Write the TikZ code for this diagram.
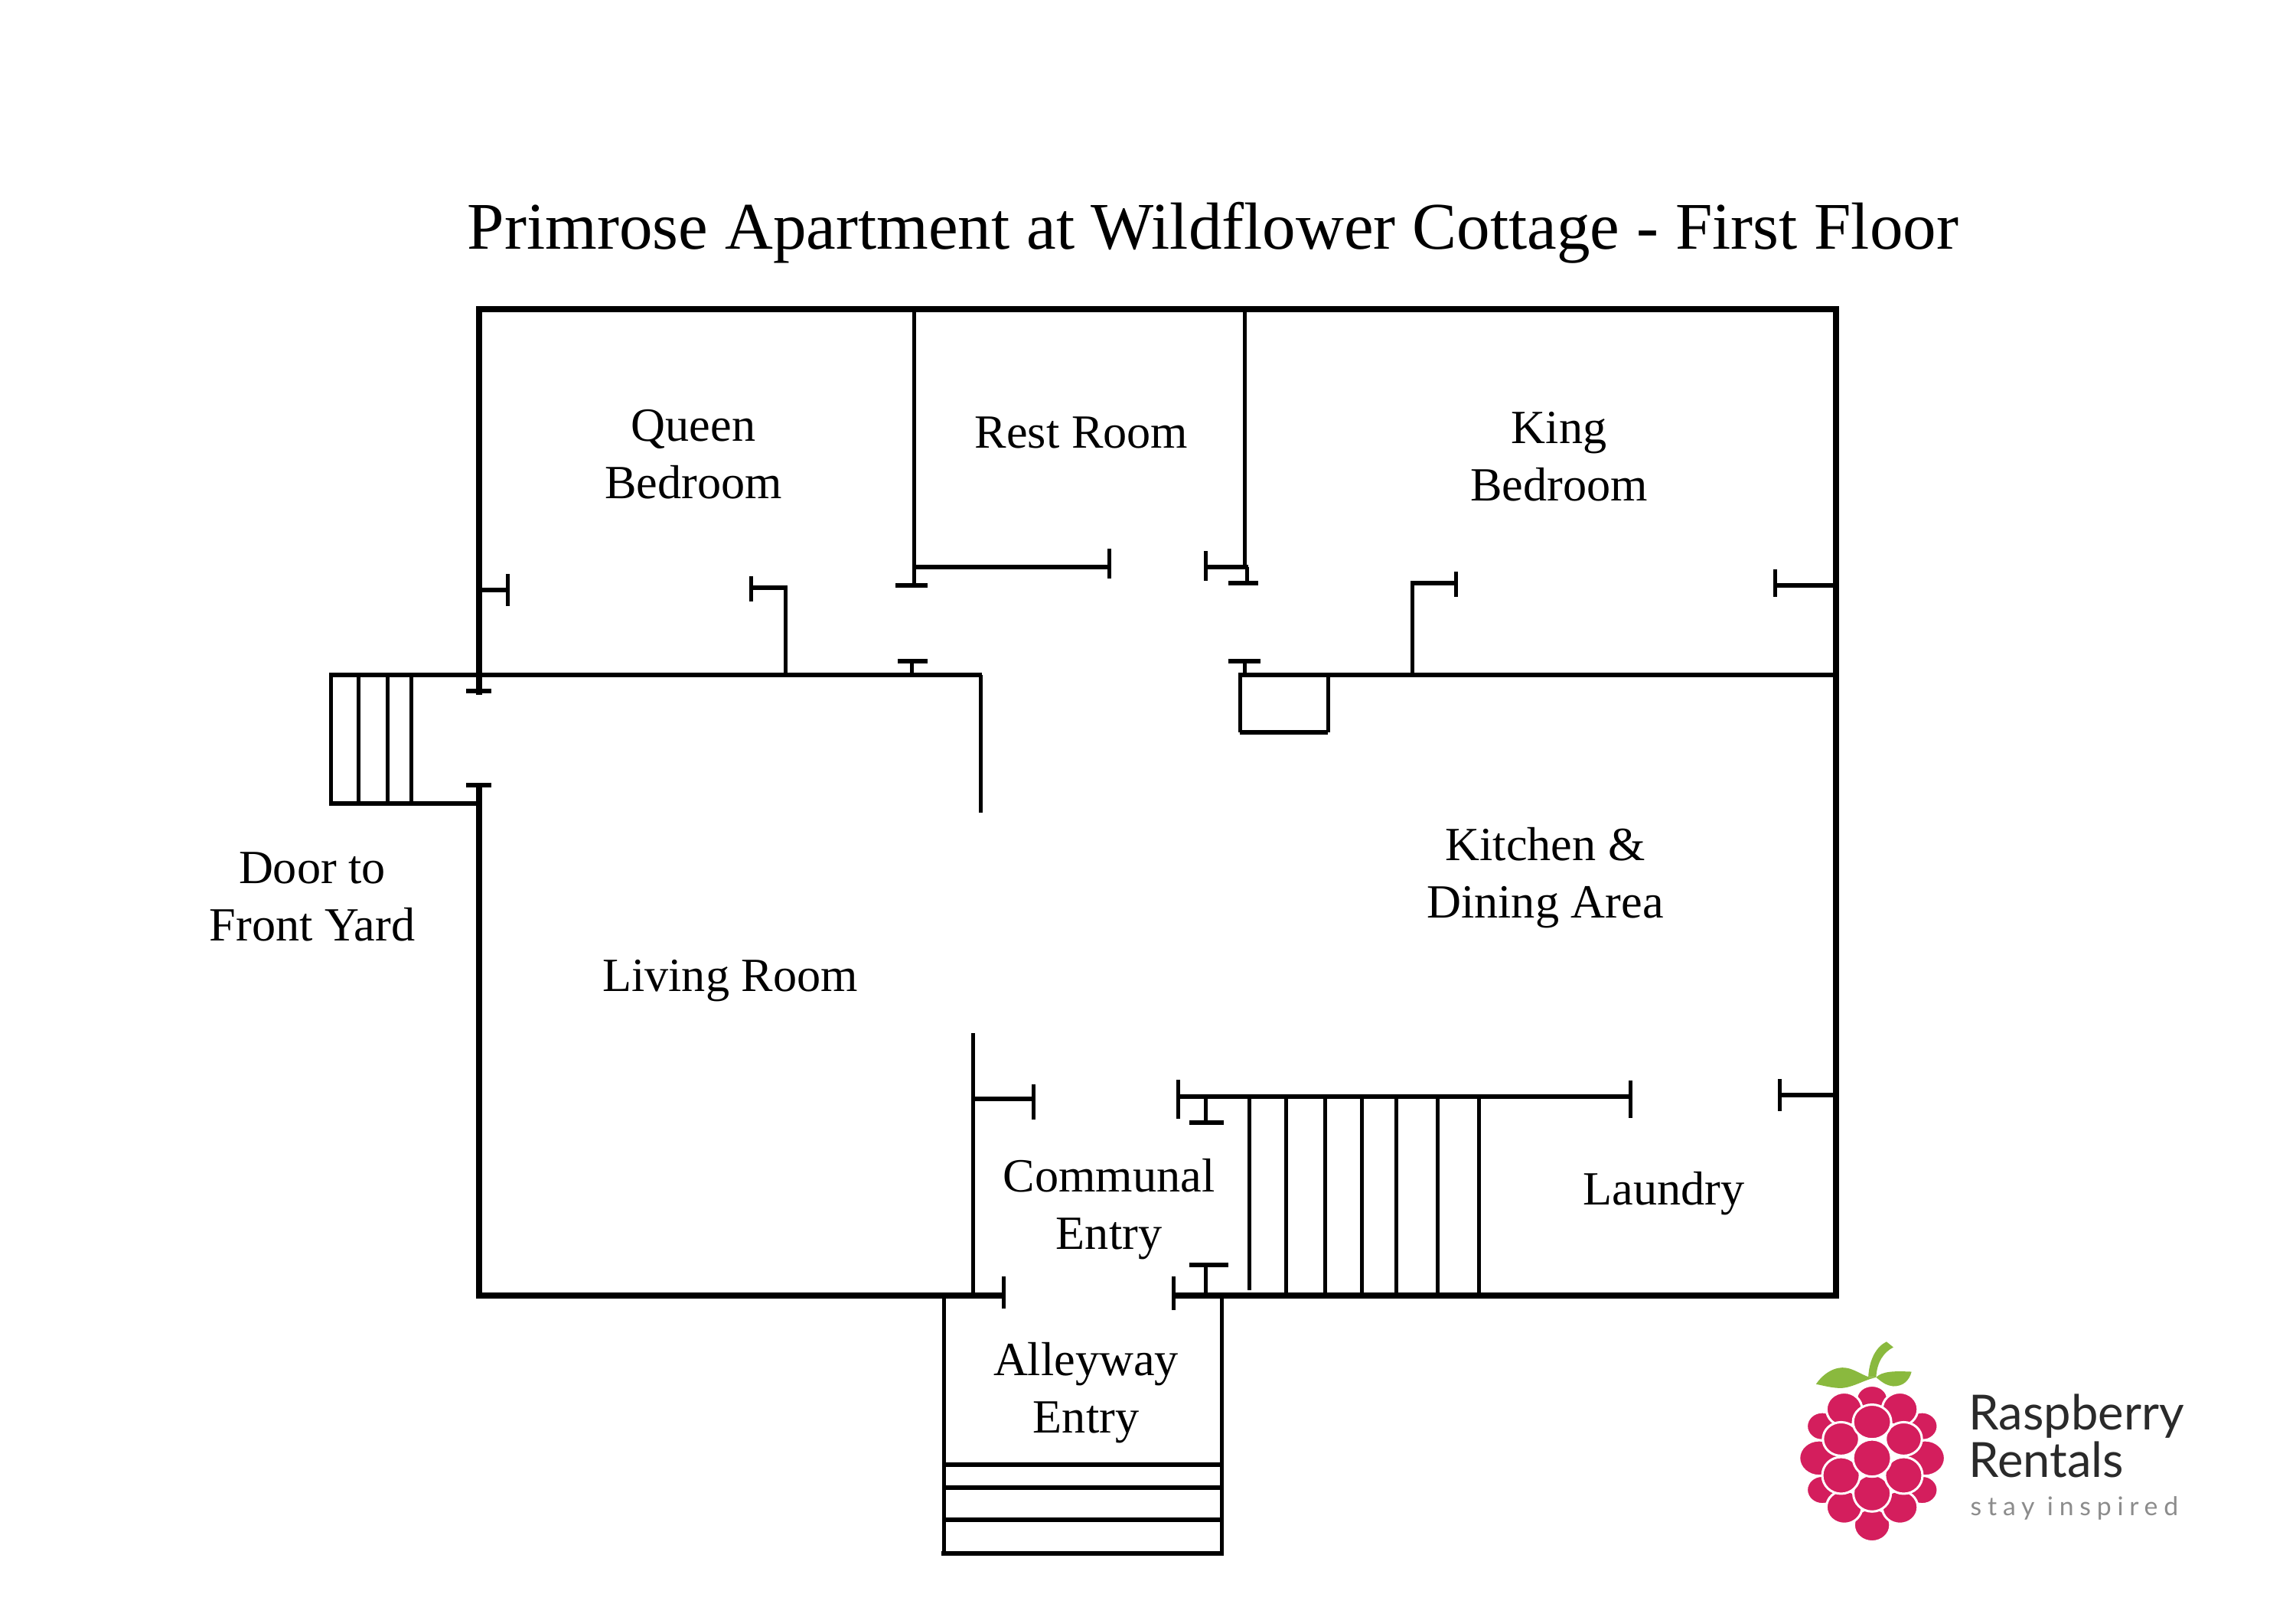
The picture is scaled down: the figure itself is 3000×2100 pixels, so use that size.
\documentclass[tikz,border=0pt]{standalone}
\usepackage{fontspec}
\setmainfont{Liberation Serif}
\newfontfamily\logofont{Lato}
\newfontfamily\tagfont[LetterSpace=23]{Lato}
\definecolor{berry}{HTML}{D41E5D}
\definecolor{leaf}{HTML}{8AB93E}
\definecolor{logotext}{HTML}{2A2A2A}
\definecolor{tagtext}{HTML}{8C8C8C}
\tikzset{
  outer/.style={line width=0.08cm,line join=miter},
  wallh/.style={line width=0.06cm},
  wallv/.style={line width=0.05cm},
  roomlabel/.style={font=\fontsize{17.7pt}{21.3pt}\selectfont,align=center,inner sep=0pt,text=black},
  drupe/.style={fill=berry,draw=white,line width=0.03cm}
}
\newcommand{\dr}[4]{\path[drupe] (#1,#2) ellipse [x radius=#3, y radius=#4];}
\begin{document}
\begin{tikzpicture}[x=0.01cm,y=-0.01cm]
\useasboundingbox (0,0) rectangle (3000,2100);
\fill[white] (0,0) rectangle (3000,2100);
% title
\node[inner sep=0pt,font=\fontsize{24.76pt}{30pt}\selectfont] (title) at (1585,304) {Primrose Apartment at Wildflower Cottage - First Floor};
% outer walls
\draw[outer] (626,908) -- (626,404) -- (2399,404) -- (2399,1693) -- (1533,1693);
\draw[outer] (1311,1693) -- (626,1693) -- (626,1024);
% left door ticks
\draw[wallh] (609,903) -- (642,903);
\draw[wallh] (609,1026) -- (642,1026);
% front stairs
\draw[wallh] (626,882) -- (432,882);
\draw[wallh] (626,1050) -- (432,1050);
\draw[wallv] (432,879) -- (432,1053);
\draw[wallv] (468,882) -- (468,1050);
\draw[wallv] (506,882) -- (506,1050);
\draw[wallv] (537,882) -- (537,1050);
% horizontal mid walls
\draw[wallh] (626,882) -- (1283,882);
\draw[wallv] (1281,882) -- (1281,1062);
\draw[wallh] (1618,882) -- (2399,882);
% queen bedroom door
\draw[wallh] (626,771) -- (663,771);
\draw[wallv] (663,750) -- (663,792);
\draw[wallh] (981,768) -- (1028,768);
\draw[wallv] (981,753) -- (981,786);
\draw[wallv] (1026,765) -- (1026,882);
% rest room
\draw[wallv] (1194,404) -- (1194,762);
\draw[wallh] (1170,765) -- (1212,765);
\draw[wallh] (1194,741) -- (1448,741);
\draw[wallv] (1449,717) -- (1449,756);
\draw[wallh] (1173,864) -- (1212,864);
\draw[wallv] (1191,864) -- (1191,882);
\draw[wallv] (1626,404) -- (1626,741);
\draw[wallh] (1575,741) -- (1631,741);
\draw[wallv] (1575,720) -- (1575,759);
\draw[wallv] (1629,741) -- (1629,762);
\draw[wallh] (1605,762) -- (1644,762);
\draw[wallh] (1605,864) -- (1647,864);
\draw[wallv] (1626,864) -- (1626,882);
% closet
\draw[wallv] (1620,879) -- (1620,957);
\draw[wallv] (1735,882) -- (1735,957);
\draw[wallh] (1620,957) -- (1735,957);
% king bedroom
\draw[wallv] (1845,760) -- (1845,882);
\draw[wallh] (1843,762) -- (1902,762);
\draw[wallv] (1902,747) -- (1902,780);
\draw[wallh] (2319,765) -- (2399,765);
\draw[wallv] (2319,744) -- (2319,780);
% communal entry
\draw[wallv] (1271,1350) -- (1271,1693);
\draw[wallh] (1271,1436) -- (1350,1436);
\draw[wallv] (1350,1417) -- (1350,1463);
\draw[wallv] (1539,1411) -- (1539,1462);
\draw[wallh] (1539,1433) -- (2130,1433);
\draw[wallv] (2130,1412) -- (2130,1461);
\draw[wallv] (1575,1433) -- (1575,1467);
\draw[wallh] (1554,1467) -- (1599,1467);
\draw[wallh] (1554,1653) -- (1605,1653);
\draw[wallv] (1575,1653) -- (1575,1693);
\draw[wallv] (1311,1668) -- (1311,1710);
\draw[wallv] (1533,1668) -- (1533,1712);
% indoor stairs
\draw[wallv] (1632,1433) -- (1632,1686);
\foreach \sx in {1680,1731,1779,1824,1878,1932}{\draw[wallv] (\sx,1433) -- (\sx,1693);}
% laundry door
\draw[wallv] (2325,1410) -- (2325,1452);
\draw[wallh] (2325,1431) -- (2399,1431);
% alley entry
\draw[wallv] (1233,1693) -- (1233,2033);
\draw[wallv] (1596,1693) -- (1596,2033);
\draw[wallh] (1233,1914) -- (1596,1914);
\draw[wallh] (1233,1944) -- (1596,1944);
\draw[wallh] (1233,1986) -- (1596,1986);
\draw[wallh] (1230,2030) -- (1598,2030);
% labels
\node[roomlabel] (queen) at (906,594) {Queen\\Bedroom};
\node[roomlabel] (rest) at (1413,565) {Rest Room};
\node[roomlabel] (king) at (2037,597) {King\\Bedroom};
\node[roomlabel] (kitchen) at (2019,1147) {Kitchen \&\\Dining Area};
\node[roomlabel] (living) at (954,1282) {Living Room};
\node[roomlabel] (front) at (408,1172) {Door to\\Front Yard};
\node[roomlabel] (communal) at (1449,1580) {Communal\\Entry};
\node[roomlabel] (laundry) at (2174,1560) {Laundry};
\node[roomlabel] (alley) at (1419,1820) {Alleyway\\Entry};
% logo
\begin{scope}[shift={(2300,1720)},x=0.004082cm,y=-0.003333cm]
\fill[leaf] (345,238) .. controls (348,170) and (370,120) .. (403,100) -- (425,122) .. controls (395,140) and (372,180) .. (370,240) -- cycle;
\fill[leaf] (178,267) .. controls (200,225) and (240,195) .. (275,203) .. controls (300,208) and (325,230) .. (345,238) -- (370,240) .. controls (330,250) and (290,285) .. (250,282) .. controls (220,280) and (195,270) .. (178,267) -- cycle;
\fill[leaf] (370,240) .. controls (390,215) and (430,215) .. (483,218) .. controls (475,255) and (455,275) .. (425,275) .. controls (400,272) and (385,255) .. (370,240) -- cycle;
\dr{357}{325}{50}{53}
\dr{357}{820}{58}{65}
\dr{198}{432}{50}{56}
\dr{517}{432}{50}{56}
\dr{198}{682}{50}{56}
\dr{517}{682}{50}{56}
\dr{188}{557}{64}{70}
\dr{526}{557}{64}{70}
\dr{268}{365}{57}{66}
\dr{446}{365}{57}{66}
\dr{268}{750}{57}{65}
\dr{446}{750}{57}{65}
\dr{357}{695}{60}{72}
\dr{258}{482}{58}{66}
\dr{458}{482}{58}{66}
\dr{258}{625}{60}{72}
\dr{458}{625}{60}{72}
\dr{357}{415}{61}{68}
\dr{357}{557}{61}{73}
\end{scope}
\node[inner sep=0pt,anchor=base west,text=logotext,font=\logofont\fontsize{18pt}{20pt}\selectfont] (rasp) at (2572,1868) {Raspberry};
\node[inner sep=0pt,anchor=base west,text=logotext,font=\logofont\fontsize{18pt}{20pt}\selectfont] (rent) at (2572,1930) {Rentals};
\node[inner sep=0pt,anchor=base west,text=tagtext,font=\tagfont\fontsize{9.6pt}{12pt}\selectfont] (tag) at (2574,1980) {stay inspired};
\end{tikzpicture}
\end{document}
